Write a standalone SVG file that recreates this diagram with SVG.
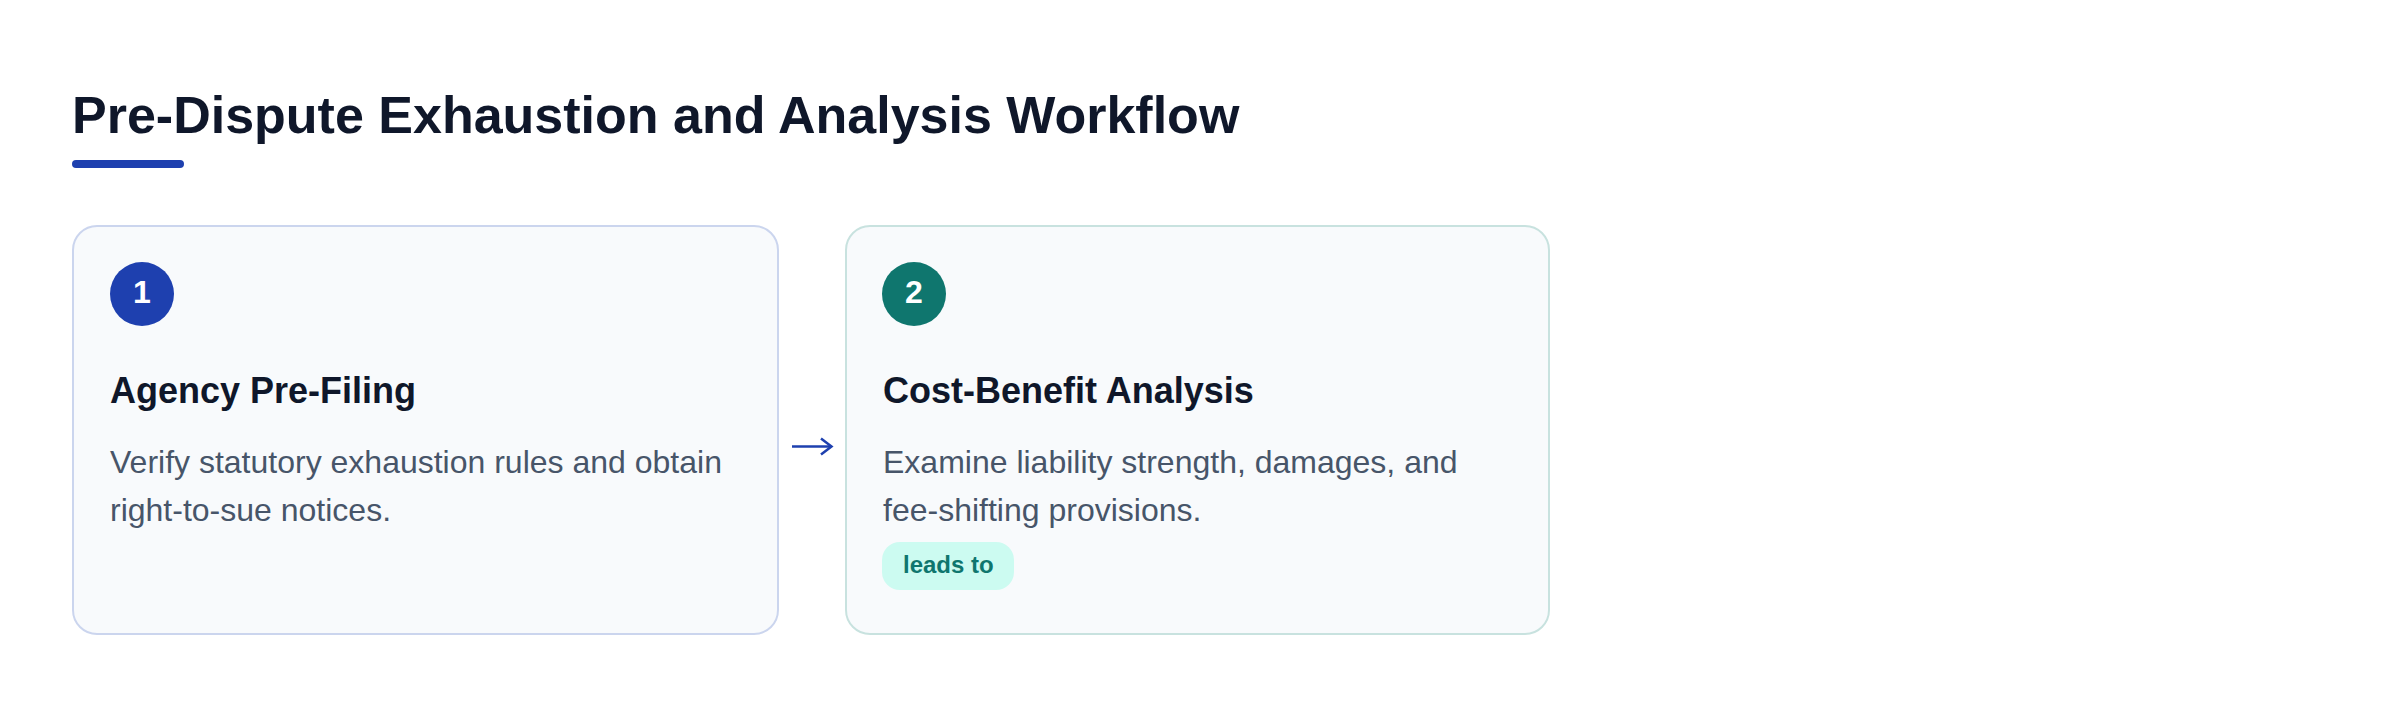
<svg xmlns="http://www.w3.org/2000/svg" width="2400" height="708" viewBox="0 0 2400 708">
  <style>
    .title { font-family: "Liberation Sans", Arial, sans-serif; font-size: 52px; font-weight: bold; fill: #0f172a; }
    .card { fill: #f8fafc; stroke-width: 2; }
    .num { font-family: "Liberation Sans", Arial, sans-serif; font-size: 32px; font-weight: bold; fill: #ffffff; text-anchor: middle; }
    .head { font-family: "Liberation Sans", Arial, sans-serif; font-size: 36px; font-weight: bold; fill: #0f172a; }
    .body { font-family: "Liberation Sans", Arial, sans-serif; font-size: 32px; fill: #475569; }
    .pill { font-family: "Liberation Sans", Arial, sans-serif; font-size: 24px; font-weight: bold; fill: #0f766e; }
    .conn { stroke: #1e40af; stroke-width: 2.5; fill: none; stroke-linecap: butt; stroke-linejoin: miter; }
  </style>
  <rect x="0" y="0" width="2400" height="708" fill="#ffffff"/>
  <g id="header">
    <text class="title" x="72" y="133">Pre-Dispute Exhaustion and Analysis Workflow</text>
    <rect x="72" y="160" width="112" height="8" rx="4" fill="#1e40af"/>
  </g>
  <g id="node-1">
    <rect class="card" x="73" y="226" width="705" height="408" rx="24" stroke="#cbd5ee"/>
    <circle cx="142" cy="294" r="32" fill="#1e40af"/>
    <text class="num" x="142" y="303">1</text>
    <text class="head" x="110" y="403">Agency Pre-Filing</text>
    <text class="body" x="110" y="473">Verify statutory exhaustion rules and obtain</text>
    <text class="body" x="110" y="521">right-to-sue notices.</text>
  </g>
  <g id="node-2">
    <rect class="card" x="846" y="226" width="703" height="408" rx="24" stroke="#c8e2df"/>
    <circle cx="914" cy="294" r="32" fill="#0f766e"/>
    <text class="num" x="914" y="303">2</text>
    <text class="head" x="883" y="403">Cost-Benefit Analysis</text>
    <text class="body" x="883" y="473">Examine liability strength, damages, and</text>
    <text class="body" x="883" y="521">fee-shifting provisions.</text>
    <rect x="882" y="542" width="132" height="48" rx="18" fill="#ccfbf1"/>
    <text class="pill" x="903" y="573">leads to</text>
  </g>
  <g id="connectors">
    <line class="conn" x1="792" y1="446.5" x2="830" y2="446.5"/>
    <path class="conn" d="M821 438.5 L831.5 446.5 L821 454.5"/>
  </g>
</svg>
